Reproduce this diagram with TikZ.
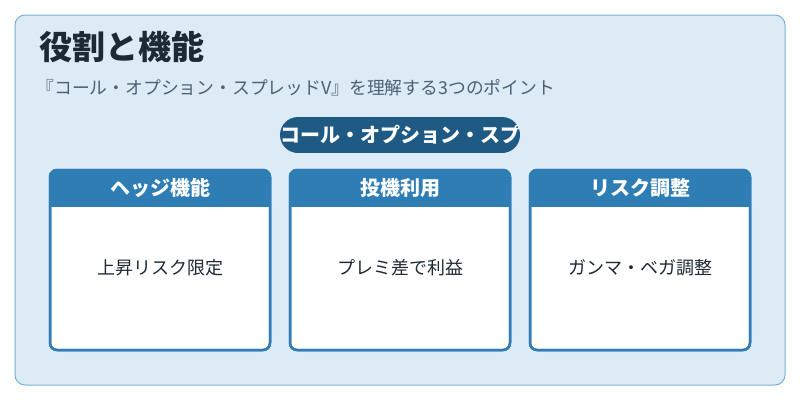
\documentclass[tikz,border=0pt]{standalone}
\usepackage{fontspec}
\setmainfont{Noto Sans CJK JP}
\begin{document}
\begin{tikzpicture}[x=1pt,y=-1pt,
  card/.style={draw=hdr,line width=2.5pt,fill=white,rounded corners=7pt},
  hdrtxt/.style={text=white,font=\bfseries\fontsize{20}{22}\selectfont},
  body/.style={text=txt,font=\fontsize{18}{20}\selectfont}]
\definecolor{bg}{HTML}{DDEBF6}
\definecolor{bord}{HTML}{7AB0D6}
\definecolor{hdr}{HTML}{2E7DB5}
\definecolor{pill}{HTML}{1F5A85}
\definecolor{txt}{HTML}{1E2A33}
\definecolor{sub}{HTML}{4A6274}
\useasboundingbox (0,0) rectangle (800,400);
\draw[draw=bord,fill=bg,line width=1pt,rounded corners=10pt] (15,15) rectangle (785,385);
\node[anchor=west,text=txt,font=\bfseries\fontsize{33}{36}\selectfont] (title) at (36,47) {役割と機能};
\node[anchor=west,text=sub,font=\fontsize{17.8}{20}\selectfont] (subt) at (33,88) {『コール・オプション・スプレッドV』を理解する3つのポイント};
\begin{scope}
\clip[rounded corners=18pt] (280,117) rectangle (520,153);
\fill[pill] (280,117) rectangle (520,153);
\node[text=white,font=\bfseries\fontsize{20}{22}\selectfont] (pill) at (400,135) {コール・オプション・スプ};
\end{scope}
\foreach \x/\h/\b [count=\i] in {50/ヘッジ機能/上昇リスク限定,290/投機利用/プレミ差で利益,530/リスク調整/ガンマ・ベガ調整}{
  \draw[card] (\x,170) rectangle (\x+220,350);
  \begin{scope}
    \clip[rounded corners=7pt] (\x,170) rectangle (\x+220,350);
    \fill[hdr] (\x,170) rectangle (\x+220,207);
  \end{scope}
  \draw[draw=hdr,line width=2.5pt,rounded corners=7pt] (\x,170) rectangle (\x+220,350);
  \node[hdrtxt] (h\i) at (\x+110,188) {\h};
  \node[body] (b\i) at (\x+110,268) {\b};
}
\end{tikzpicture}
\end{document}
